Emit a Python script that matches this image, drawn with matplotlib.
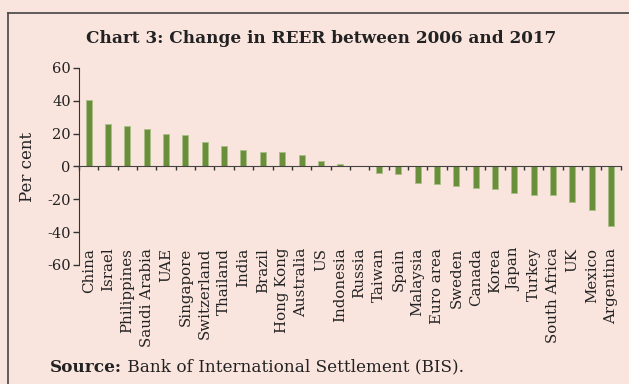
import matplotlib.pyplot as plt
from matplotlib.lines import Line2D
import numpy as np

# REER change 2006-2017, per cent
countries = ["China", "Israel", "Philippines", "Saudi Arabia", "UAE", "Singapore",
             "Switzerland", "Thailand", "India", "Brazil", "Hong Kong", "Australia",
             "US", "Indonesia", "Russia", "Taiwan", "Spain", "Malaysia", "Euro area",
             "Sweden", "Canada", "Korea", "Japan", "Turkey", "South Africa", "UK",
             "Mexico", "Argentina"]
change = [40.6, 25.9, 24.4, 23.1, 19.5, 18.9, 14.6, 12.2, 10.1, 9.1, 8.7, 6.9,
          3.2, 1.2, 0.2, -3.9, -4.6, -10.0, -10.8, -11.6, -13.4, -14.0, -16.0,
          -17.3, -17.6, -21.5, -26.6, -36.4]
yticks = [-60, -40, -20, 0, 20, 40, 60]

bg = '#fae4de'
green = '#6a8f3b'
ink = '#222222'
plt.rcParams['font.family'] = 'DejaVu Serif'

fig = plt.figure(figsize=(6.29, 3.84), dpi=100, facecolor=bg)
ax = fig.add_axes([0.1256, 0.31, 0.8614, 0.513])
ax.set_facecolor(bg)

x = np.arange(len(countries)) + 0.5
ax.bar(x, change, width=0.31, color=green, edgecolor='#a9bf86', linewidth=0.6)

ax.set_xlim(0, len(countries))
ax.set_ylim(-60, 60)
ax.set_yticks(yticks)
ax.set_yticklabels([str(v) for v in yticks], fontsize=10.5, color=ink)
ax.tick_params(axis='y', direction='out', length=4, width=1, color='#333333', pad=2)

# category boundaries as ticks on the zero line
ax.set_xticks(np.arange(len(countries) + 1))
ax.set_xticklabels([])
ax.tick_params(axis='x', direction='out', length=3, width=1, color='#333333')
ax.spines['bottom'].set_position(('data', 0))
ax.spines['bottom'].set_color('#444444')
ax.spines['left'].set_color('#333333')
ax.spines['top'].set_visible(False)
ax.spines['right'].set_visible(False)

# country names hang from a fixed level near the bottom
for xi, name in zip(x, countries):
    ax.text(xi, -49.5, name, rotation=90, ha='center', va='top',
            fontsize=10.8, color=ink)

ax.set_ylabel('Per cent', fontsize=12, color=ink, labelpad=8)

fig.text(0.51, 0.90, 'Chart 3: Change in REER between 2006 and 2017',
         ha='center', va='center', fontsize=12.2, fontweight='bold', color=ink)
src = fig.text(0.08, 0.022, 'Source:', ha='left', va='bottom', fontsize=12.2,
               fontweight='bold', color=ink)
ax.annotate(' Bank of International Settlement (BIS).', xy=(1, 0), xycoords=src,
            ha='left', va='bottom', fontsize=12.2, color=ink,
            annotation_clip=False)

# box frame, left and top edges
fig.add_artist(Line2D([0.012, 0.012], [0.0, 0.966], transform=fig.transFigure,
                      color='#444444', linewidth=1.2))
fig.add_artist(Line2D([0.012, 1.0], [0.966, 0.966], transform=fig.transFigure,
                      color='#444444', linewidth=1.2))

fig.savefig('out.png', dpi=100, facecolor=bg)
